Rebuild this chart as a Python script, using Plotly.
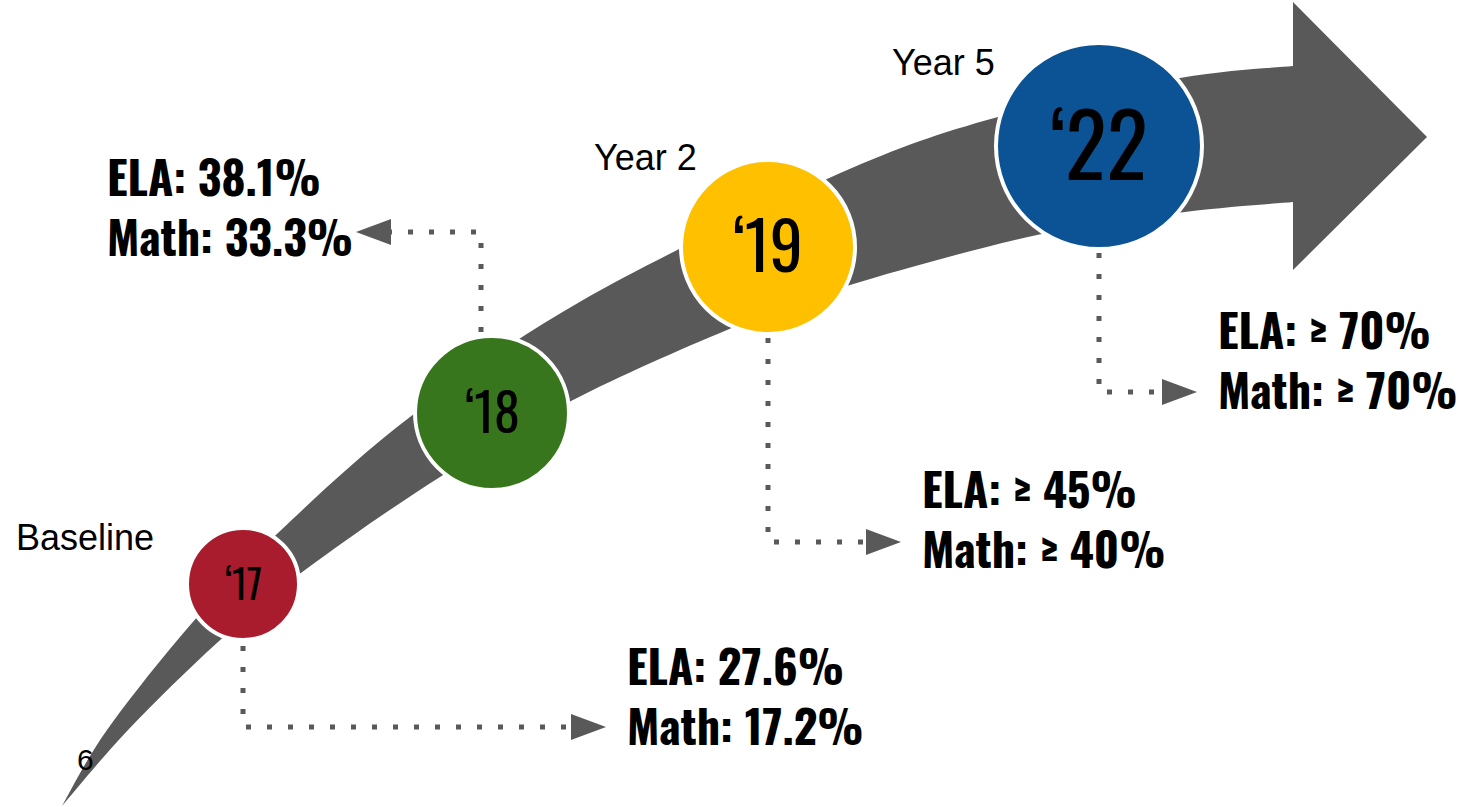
import plotly.graph_objects as go

# ---------------- data ----------------
years = ["‘17", "‘18", "‘19", "‘22"]
stages = ["Baseline", "", "Year 2", "Year 5"]
ela = ["27.6%", "38.1%", "≥ 45%", "≥ 70%"]
math = ["17.2%", "33.3%", "≥ 40%", "≥ 70%"]
page_number = "6"

# ---------------- layout / style (pixel coordinates of the slide) ----------------
W, H = 1459, 807
circle_colors = ["#A81C2E", "#38761D", "#FFC000", "#0B5394"]
circle_centers = [(243, 584), (492, 413), (768, 247), (1099, 146)]
circle_radii = [56, 77, 87, 103]
label_sizes = [40, 52, 66, 86]
label_dy = [-2, -4, -5, -5]
stage_pos = [(14, 537), None, (592, 157), (890, 62)]
# connector: start point, corner, arrow tip
connectors = [
    [(243, 646), (243, 727), (606, 727)],
    [(481, 332), (481, 232), (356, 232)],
    [(768, 338), (768, 542), (901, 542)],
    [(1099, 253), (1099, 392), (1197, 392)],
]
text_pos = [(625, 694), (105, 205), (920, 517), (1216, 358)]
GRAY = "#595959"
COND_FONT = ("Oswald, 'League Gothic', 'Noto Sans ExtraCondensed', 'Noto Sans Condensed', "
             "'Roboto Condensed', 'DejaVu Sans Condensed', 'Liberation Sans Narrow', 'Noto Sans', sans-serif")
SANS = "Liberation Sans, Arial, sans-serif"

upper = [(62, 806), (107, 730), (192, 623), (278, 533), (410, 417),
         (583, 300), (827, 179), (987, 120), (1180, 78), (1293, 66)]
lower = [(62, 806), (128, 730), (218, 642), (305, 570), (440, 477), (573, 400),
         (727, 330), (850, 285), (1037, 235), (1185, 212), (1293, 202)]


def catmull(points):
    """Return SVG cubic segments through points (excluding initial M)."""
    segs = []
    n = len(points)
    for i in range(n - 1):
        p0 = points[i - 1] if i > 0 else points[i]
        p1 = points[i]
        p2 = points[i + 1]
        p3 = points[i + 2] if i + 2 < n else points[i + 1]
        c1 = (p1[0] + (p2[0] - p0[0]) / 6, p1[1] + (p2[1] - p0[1]) / 6)
        c2 = (p2[0] - (p3[0] - p1[0]) / 6, p2[1] - (p3[1] - p1[1]) / 6)
        segs.append(f"C {c1[0]:.1f},{c1[1]:.1f} {c2[0]:.1f},{c2[1]:.1f} {p2[0]},{p2[1]}")
    return " ".join(segs)


up_rev = upper[::-1]
arrow_path = (f"M {up_rev[0][0]},{up_rev[0][1]} " + catmull(up_rev) + " " +
              catmull(lower) + " L 1293,270 L 1427,137 L 1293,2 Z")

shapes = [dict(type="path", path=arrow_path, fillcolor=GRAY, line=dict(width=0), layer="below")]

# connectors
for (s, c, t) in connectors:
    direction = 1 if t[0] > c[0] else -1
    base_x = t[0] - direction * 35
    shapes.append(dict(type="path", path=f"M {s[0]},{s[1]} L {c[0]},{c[1]} L {base_x},{c[1]}",
                       line=dict(color=GRAY, width=5, dash="5px,16px")))
    shapes.append(dict(type="path",
                       path=f"M {base_x},{t[1]-13} L {t[0]},{t[1]} L {base_x},{t[1]+13} Z",
                       fillcolor=GRAY, line=dict(width=0)))

# circles
for (cx, cy), r, col in zip(circle_centers, circle_radii, circle_colors):
    shapes.append(dict(type="circle", x0=cx - r, x1=cx + r, y0=cy - r, y1=cy + r,
                       fillcolor=col, line=dict(color="white", width=4)))

annotations = []
for (cx, cy), lab, sz, dy in zip(circle_centers, years, label_sizes, label_dy):
    annotations.append(dict(x=cx, y=cy + dy, text=lab, showarrow=False, xanchor="center", yanchor="middle",
                            font=dict(family=COND_FONT, size=sz, color="black")))
for lab, pos in zip(stages, stage_pos):
    if pos and lab:
        annotations.append(dict(x=pos[0], y=pos[1], text=lab, showarrow=False, xanchor="left",
                                yanchor="middle", font=dict(family=SANS, size=36, color="black")))
annotations.append(dict(x=75, y=759, text=page_number, showarrow=False, xanchor="left", yanchor="middle",
                        font=dict(family=SANS, size=30, color="black")))
for e, m, (x, y) in zip(ela, math, text_pos):
    annotations.append(dict(x=x, y=y, text="ELA: " + e + "<br>Math: " + m, showarrow=False,
                            xanchor="left", yanchor="middle", align="left",
                            font=dict(family=COND_FONT, size=46, color="black", weight="bold")))

fig = go.Figure(go.Scatter(x=[None], y=[None], showlegend=False))
fig.update_layout(
    width=W, height=H, margin=dict(l=0, r=0, t=0, b=0),
    paper_bgcolor="white", plot_bgcolor="white",
    xaxis=dict(range=[0, W], visible=False, fixedrange=True),
    yaxis=dict(range=[H, 0], visible=False, fixedrange=True),
    shapes=shapes, annotations=annotations, showlegend=False,
)
fig.write_html("out.html", config={"displayModeBar": False},
               post_script="document.body.style.margin='0';document.body.style.overflow='hidden';")
